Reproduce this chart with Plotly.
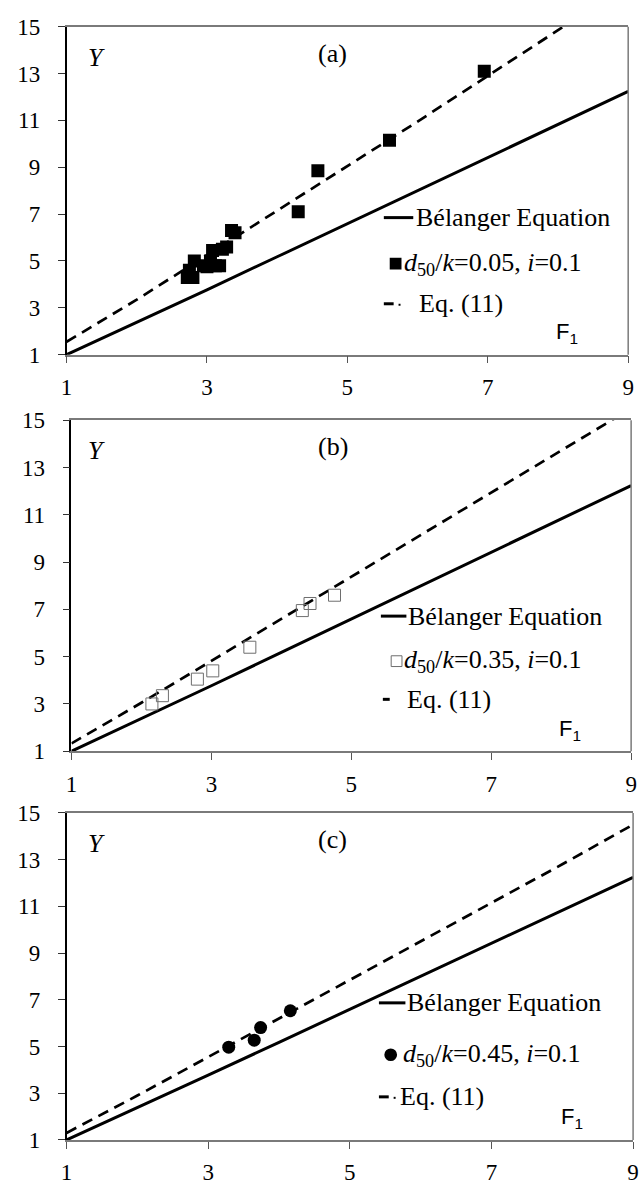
import plotly.graph_objects as go

# ---------------- data ----------------
F_line = [1, 2, 3, 4, 5, 6, 7, 8, 9]
Y_belanger = [1.00, 2.37, 3.77, 5.18, 6.59, 8.00, 9.41, 10.82, 12.24]
Y_eq11_a = [1.55, 3.35, 5.25, 7.15, 9.05, 10.95, 12.90, 14.85, 16.80]
Y_eq11_b = [1.33, 3.05, 4.82, 6.60, 8.38, 10.16, 11.94, 13.72, 15.50]
Y_eq11_c = [1.30, 2.90, 4.55, 6.20, 7.85, 9.50, 11.15, 12.80, 14.50]

a_F = [2.72, 2.75, 2.80, 2.82, 2.95, 3.00, 3.05, 3.08, 3.12, 3.18, 3.22, 3.28, 3.35, 3.40, 4.30, 4.58, 5.60, 6.95]
a_Y = [4.30, 4.60, 4.30, 5.00, 4.80, 4.75, 5.00, 5.45, 4.80, 4.80, 5.50, 5.60, 6.30, 6.20, 7.10, 8.85, 10.15, 13.10]

b_F = [2.15, 2.30, 2.80, 3.02, 3.55, 4.30, 4.41, 4.76]
b_Y = [3.00, 3.35, 4.05, 4.40, 5.40, 6.95, 7.25, 7.60]

c_F = [3.29, 3.65, 3.74, 4.16]
c_Y = [4.97, 5.27, 5.81, 6.53]

x_ticks = [1, 3, 5, 7, 9]
y_ticks = [1, 3, 5, 7, 9, 11, 13, 15]
panel_labels = ["(a)", "(b)", "(c)"]
series_labels = [
    "<i>d</i><sub>50</sub>/<i>k</i>=0.05, <i>i</i>=0.1",
    "<i>d</i><sub>50</sub>/<i>k</i>=0.35, <i>i</i>=0.1",
    "<i>d</i><sub>50</sub>/<i>k</i>=0.45, <i>i</i>=0.1",
]

# ---------------- layout geometry (pixels) ----------------
W, H = 644, 1197
panels = [
    dict(x0=61.7, x1=634, y0=15, y1=350),
    dict(x0=66.7, x1=637, y0=417, y1=755),
    dict(x0=61.7, x1=639, y0=818, y1=1152),
]
SERIF = "Liberation Serif, Times New Roman, Times, serif"
SANS = "Liberation Sans, Arial, sans-serif"


def px(x):
    return x / W


def py(y):
    return 1 - y / H


fig = go.Figure()
eqs = [Y_eq11_a, Y_eq11_b, Y_eq11_c]
pts = [(a_F, a_Y), (b_F, b_Y), (c_F, c_Y)]
markers = [
    dict(symbol="square", size=13, color="black"),
    dict(symbol="square-open", size=12, color="#6e6e6e", line=dict(width=1, color="#6e6e6e")),
    dict(symbol="circle", size=13, color="black"),
]

shapes = []
annotations = []


def note(x, y, text, font, xanchor="center"):
    annotations.append(dict(x=px(x), y=py(y), xref="paper", yref="paper", text=text,
                            showarrow=False, xanchor=xanchor, yanchor="middle", font=font))


for i, p in enumerate(panels):
    n = "" if i == 0 else str(i + 1)
    xa, ya = "x" + n, "y" + n
    fig.add_trace(go.Scatter(x=F_line, y=Y_belanger, mode="lines", xaxis=xa, yaxis=ya,
                             line=dict(color="black", width=3), showlegend=False, hoverinfo="skip"))
    fig.add_trace(go.Scatter(x=F_line, y=eqs[i], mode="lines", xaxis=xa, yaxis=ya,
                             line=dict(color="black", width=2.7, dash="11px,7px"),
                             showlegend=False, hoverinfo="skip"))
    fig.add_trace(go.Scatter(x=pts[i][0], y=pts[i][1], mode="markers", xaxis=xa, yaxis=ya,
                             marker=markers[i], showlegend=False, cliponaxis=True))

    axfont = dict(family=SERIF, size=23, color="black")
    fig.update_layout(**{
        "xaxis" + n: dict(domain=[px(p["x0"]), px(p["x1"])], range=[1, 9], anchor=ya,
                          tickvals=x_ticks, ticks="outside", ticklen=7, tickcolor="#555",
                          showline=True, linecolor="#7a7a7a", linewidth=1.5, mirror=True,
                          showgrid=False, zeroline=False, tickfont=axfont,
                          ticklabelstandoff=4, fixedrange=True),
        "yaxis" + n: dict(domain=[py(p["y1"]), py(p["y0"])], range=[1, 15], anchor=xa,
                          tickvals=y_ticks, ticks="outside", ticklen=7, tickcolor="#333",
                          showline=True, linecolor="black", linewidth=1.5, mirror=False,
                          showgrid=False, zeroline=False, tickfont=axfont,
                          ticklabelstandoff=13, fixedrange=True),
    })
    shapes.append(dict(type="line", xref="paper", yref="paper",
                       x0=px(p["x1"]), x1=px(p["x1"]), y0=py(p["y1"]), y1=py(p["y0"]),
                       line=dict(color="#7a7a7a", width=1.5)))

    top = p["y0"]
    note(92, top + 31, "<i>Y</i>", dict(family=SERIF, size=26, color="black"))
    note(333, top + 27, panel_labels[i], dict(family=SERIF, size=26, color="black"))
    note(p["x1"] - 62, p["y1"] - 22, "F<sub>1</sub>", dict(family=SANS, size=22, color="black"))

# ---------------- custom legends ----------------
leg = [
    dict(r1=210, r2=257, r3=298, lx0=385, lx1=415, t1=416, mk=397, t2=404, t3=419),
    dict(r1=617, r2=663, r3=702, lx0=382, lx1=408, t1=408, mk=398, t2=404, t3=407),
    dict(r1=1012, r2=1065, r3=1108, lx0=380, lx1=407, t1=407, mk=392, t2=402, t3=399),
]
lfont = dict(family=SERIF, size=26, color="black")
for i, g in enumerate(leg):
    shapes.append(dict(type="line", xref="paper", yref="paper",
                       x0=px(g["lx0"]), x1=px(g["lx1"]), y0=py(g["r1"]), y1=py(g["r1"]),
                       line=dict(color="black", width=3)))
    note(g["t1"], g["r1"], "Bélanger Equation", lfont, xanchor="left")
    m = g["mk"]
    r = g["r2"]
    if i == 0:
        shapes.append(dict(type="rect", xref="paper", yref="paper",
                           x0=px(m - 6), x1=px(m + 6), y0=py(r + 6), y1=py(r - 6),
                           fillcolor="black", line=dict(width=0)))
    elif i == 1:
        shapes.append(dict(type="rect", xref="paper", yref="paper",
                           x0=px(m - 5.5), x1=px(m + 5.5), y0=py(r + 5.5), y1=py(r - 5.5),
                           fillcolor="white", line=dict(color="#6e6e6e", width=1)))
    else:
        shapes.append(dict(type="circle", xref="paper", yref="paper",
                           x0=px(m - 6.5), x1=px(m + 6.5), y0=py(r + 6.5), y1=py(r - 6.5),
                           fillcolor="black", line=dict(width=0)))
    note(g["t2"], r, series_labels[i], lfont, xanchor="left")
    r3 = g["r3"]
    if i == 1:
        shapes.append(dict(type="line", xref="paper", yref="paper",
                           x0=px(384), x1=px(391), y0=py(r3), y1=py(r3),
                           line=dict(color="black", width=3)))
    else:
        x0 = g["lx0"]
        shapes.append(dict(type="line", xref="paper", yref="paper",
                           x0=px(x0), x1=px(x0 + 10), y0=py(r3), y1=py(r3),
                           line=dict(color="black", width=3)))
        shapes.append(dict(type="line", xref="paper", yref="paper",
                           x0=px(x0 + 15), x1=px(x0 + 17), y0=py(r3 + 1), y1=py(r3 + 1),
                           line=dict(color="black", width=2)))
    note(g["t3"], r3, "Eq. (11)", lfont, xanchor="left")

fig.update_layout(width=W, height=H, margin=dict(l=0, r=0, t=0, b=0),
                  paper_bgcolor="white", plot_bgcolor="white",
                  shapes=shapes, annotations=annotations, showlegend=False)

fig.write_html("out.html")
